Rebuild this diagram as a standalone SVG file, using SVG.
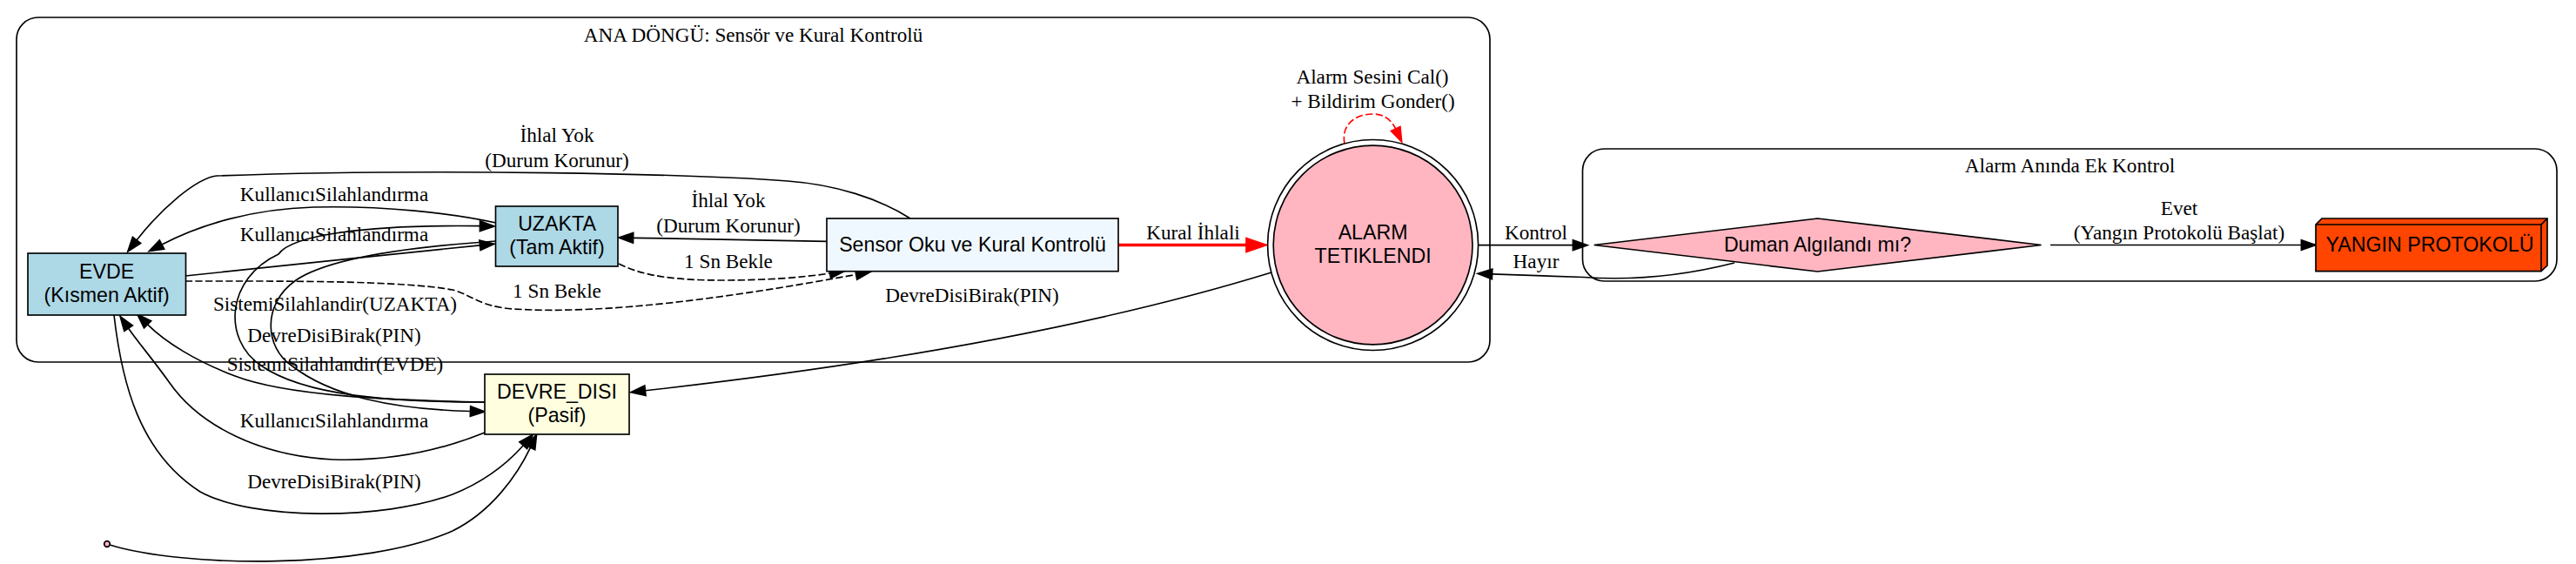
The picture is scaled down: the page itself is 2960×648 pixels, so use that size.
<svg xmlns="http://www.w3.org/2000/svg" width="2960" height="648" viewBox="0 0 2960 648">
<style>
.bg{fill:#ffffff}
.cl{fill:none;stroke:#000;stroke-width:1.66}
.nd{stroke:#000;stroke-width:1.66}
.e{fill:none;stroke:#000;stroke-width:1.66}
.d{stroke-dasharray:8.3,3.3}
.r{fill:none;stroke:#ff0000;stroke-width:3.3}
.rd{fill:none;stroke:#ff0000;stroke-width:1.66;stroke-dasharray:8.3,3.3}
.lt{font-family:"Liberation Serif","Times New Roman",serif;font-size:23.2px;fill:#000;text-anchor:middle}
.nt{font-family:"Liberation Sans",Arial,sans-serif;font-size:23.2px;fill:#000;text-anchor:middle}
</style>
<defs>
<marker id="ah" viewBox="0 0 16.6 11.6" refX="0" refY="5.8" markerWidth="16.6" markerHeight="11.6" markerUnits="userSpaceOnUse" orient="auto" overflow="visible"><path d="M0,0 L16.6,5.8 L0,11.6 z" fill="#000" stroke="#000" stroke-width="1.66"/></marker>
<marker id="ahr" viewBox="0 0 16.6 11.6" refX="0" refY="5.8" markerWidth="16.6" markerHeight="11.6" markerUnits="userSpaceOnUse" orient="auto" overflow="visible"><path d="M0,0 L16.6,5.8 L0,11.6 z" fill="#ff0000" stroke="#ff0000" stroke-width="1.66"/></marker>
<marker id="ahR" viewBox="0 0 23.5 16" refX="0" refY="8" markerWidth="23.5" markerHeight="16" markerUnits="userSpaceOnUse" orient="auto" overflow="visible"><path d="M0,0 L23.5,8 L0,16 z" fill="#ff0000" stroke="#ff0000" stroke-width="1.66"/></marker>
</defs>
<rect class="bg" x="0" y="0" width="2960" height="648"/>

<g id="cluster_main">
<rect class="cl" x="19" y="20" width="1693" height="396" rx="25" ry="25"/>
<text class="lt" x="865.5" y="48">ANA DÖNGÜ: Sensör ve Kural Kontrolü</text>
</g>
<g id="cluster_alarm">
<rect class="cl" x="1818.5" y="171" width="1119.5" height="152" rx="25" ry="25"/>
<text class="lt" x="2378.5" y="198">Alarm Anında Ek Kontrol</text>
</g>

<g id="connectors">
<g id="e_sensor_evde">
<path class="e" d="M1046,251 C1010,228 960,212 905,208 C800,200 500,193 249,202 C225,205 185,240 157,276" marker-end="url(#ah)"/>
<text class="lt" x="640" y="163">İhlal Yok</text>
<text class="lt" x="640" y="191.5">(Durum Korunur)</text>
</g>
<g id="e_sensor_uzakta">
<path class="e" d="M950,277.3 L727.6,273.3" marker-end="url(#ah)"/>
<text class="lt" x="837" y="238">İhlal Yok</text>
<text class="lt" x="837" y="266.5">(Durum Korunur)</text>
</g>
<g id="e_uzakta_sensor">
<path class="e d" d="M711,303 C740,318 780,322 830,322 C880,322 920,319 953.7,314" marker-end="url(#ah)"/>
<text class="lt" x="837" y="308">1 Sn Bekle</text>
</g>
<g id="e_evde_sensor">
<path class="e d" d="M213,323 C320,323 460,322 520,333 C545,340 550,352 590,355 C700,362 850,340 983.7,315.4" marker-end="url(#ah)"/>
<text class="lt" x="640" y="341.5">1 Sn Bekle</text>
</g>
<g id="e_uzakta_evde">
<path class="e" d="M570,256 C520,245 440,236 360,238 C290,240 230,258 186,281" marker-end="url(#ah)"/>
<text class="lt" x="384" y="231">KullanıcıSilahlandırma</text>
</g>
<g id="e_evde_uzakta">
<path class="e" d="M213,317 C300,308 450,292 551.5,281.8" marker-end="url(#ah)"/>
<text class="lt" x="384" y="277">KullanıcıSilahlandırma</text>
</g>
<g id="e_devre_uzakta">
<path class="e" d="M557,462 C450,462 350,455 300,420 C255,390 260,320 320,292 C335,270 420,258 551.5,259.7" marker-end="url(#ah)"/>
<text class="lt" x="385" y="356.5">SistemiSilahlandir(UZAKTA)</text>
</g>
<g id="e_uzakta_devre">
<path class="e" d="M570,277 C480,283 380,295 340,322 C300,350 305,400 335,420 C380,455 450,470 540.5,472.5" marker-end="url(#ah)"/>
<text class="lt" x="384" y="392.5">DevreDisiBirak(PIN)</text>
</g>
<g id="e_devre_evde_1">
<path class="e" d="M557,462 C450,460 330,455 270,432 C225,415 190,393 169.6,372.8" marker-end="url(#ah)"/>
<text class="lt" x="385" y="426">SistemiSilahlandir(EVDE)</text>
</g>
<g id="e_devre_evde_2">
<path class="e" d="M557,497 C500,520 440,530 383,528 C300,524 230,490 195,440 C175,412 160,395 147.6,377.2" marker-end="url(#ah)"/>
<text class="lt" x="384" y="490.5">KullanıcıSilahlandırma</text>
</g>
<g id="e_evde_devre">
<path class="e" d="M131,362 C140,440 160,520 230,565 C290,598 440,598 520,568 C560,552 585,530 601.3,511.7" marker-end="url(#ah)"/>
<text class="lt" x="384" y="561">DevreDisiBirak(PIN)</text>
</g>
<g id="e_start_devre">
<path class="e" d="M126,626 C210,652 420,655 520,610 C565,588 595,545 609.5,514.2" marker-end="url(#ah)"/>
</g>
<g id="e_sensor_alarm">
<path class="r" d="M1285,281.5 L1432,281.5" marker-end="url(#ahR)"/>
<text class="lt" x="1371" y="274.5">Kural İhlali</text>
</g>
<g id="e_alarm_self">
<path class="rd" d="M1545,165 C1541,145 1555,131 1578,131 C1592,131 1600,140 1603.7,148" marker-end="url(#ahr)"/>
<text class="lt" x="1577" y="95.5">Alarm Sesini Cal()</text>
<text class="lt" x="1577.5" y="124">+ Bildirim Gonder()</text>
</g>
<g id="e_alarm_devre">
<path class="e" d="M1461,313 C1250,378 1000,420 741.4,448.8" marker-end="url(#ah)"/>
<text class="lt" x="1117" y="346.5">DevreDisiBirak(PIN)</text>
</g>
<g id="e_alarm_duman">
<path class="e" d="M1698.5,281.7 L1807.4,281.7" marker-end="url(#ah)"/>
<text class="lt" x="1765" y="275">Kontrol</text>
</g>
<g id="e_duman_alarm">
<path class="e" d="M1993,302 C1930,318 1870,322 1820,318.5 C1780,317 1745,316 1714.6,314.9" marker-end="url(#ah)"/>
<text class="lt" x="1765" y="308">Hayır</text>
</g>
<g id="e_duman_yangin">
<path class="e" d="M2356,281.5 L2644.4,281.5" marker-end="url(#ah)"/>
<text class="lt" x="2504" y="246.5">Evet</text>
<text class="lt" x="2504" y="275">(Yangın Protokolü Başlat)</text>
</g>
</g>

<g id="start">
<circle class="nd" cx="123" cy="625" r="3.3" fill="#ffb6c1"/>
</g>
<g id="EVDE">
<rect class="nd" x="32" y="291" width="181.5" height="71" fill="#add8e6"/>
<text class="nt" x="122.7" y="319.5">EVDE</text>
<text class="nt" x="122.7" y="347">(Kısmen Aktif)</text>
</g>
<g id="UZAKTA">
<rect class="nd" x="569.5" y="237" width="140.5" height="69" fill="#add8e6"/>
<text class="nt" x="640" y="264.5">UZAKTA</text>
<text class="nt" x="640" y="292">(Tam Aktif)</text>
</g>
<g id="SENSOR">
<rect class="nd" x="950" y="251" width="335" height="60.7" fill="#f0f8ff"/>
<text class="nt" x="1117.5" y="289">Sensor Oku ve Kural Kontrolü</text>
</g>
<g id="ALARM">
<circle class="nd" cx="1577.6" cy="281.5" r="121" fill="none"/>
<circle class="nd" cx="1577.6" cy="281.5" r="114.4" fill="#ffb6c1"/>
<text class="nt" x="1577.6" y="274.5">ALARM</text>
<text class="nt" x="1577.6" y="302">TETIKLENDI</text>
</g>
<g id="DEVRE_DISI">
<rect class="nd" x="557" y="430" width="166" height="69" fill="#ffffe0"/>
<text class="nt" x="640" y="457.5">DEVRE_DISI</text>
<text class="nt" x="640" y="485">(Pasif)</text>
</g>
<g id="DUMAN">
<polygon class="nd" points="1831.7,281.5 2088.5,251 2345.5,281.5 2088.5,312" fill="#ffb6c1"/>
<text class="nt" x="2088.5" y="289">Duman Algılandı mı?</text>
</g>
<g id="YANGIN">
<polygon class="nd" points="2661,258 2668,251 2927,251 2927,305 2920,311.7 2661,311.7" fill="#ff4500"/>
<polyline class="nd" points="2661,258 2920,258 2920,311.7" fill="none"/>
<line class="nd" x1="2920" y1="258" x2="2927" y2="251"/>
<text class="nt" x="2792" y="289">YANGIN PROTOKOLÜ</text>
</g>
</svg>
